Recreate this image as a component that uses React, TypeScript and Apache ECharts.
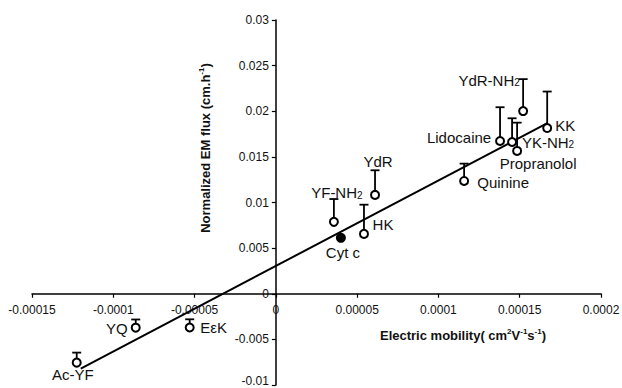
import React, { useEffect, useRef } from "react";
import * as echarts from "echarts";

const names = ["Ac-YF", "YQ", "EεK", "Cyt c", "YF-NH2", "HK", "YdR", "Quinine", "Lidocaine", "YK-NH2", "Propranolol", "YdR-NH2", "KK"];
const mobility = [-0.0001225, -0.0000862, -0.000053, 0.00004, 0.0000357, 0.0000542, 0.000061, 0.0001158, 0.0001379, 0.0001453, 0.0001484, 0.0001521, 0.0001669];
const flux = [-0.00755, -0.00372, -0.0037, 0.00613, 0.00788, 0.00656, 0.01083, 0.01236, 0.01674, 0.01663, 0.01565, 0.02002, 0.01816];
const errPlus = [0.0011, 0.0009, 0.0009, 0, 0.0025, 0.0032, 0.0027, 0.0019, 0.0037, 0.0026, 0.0031, 0.0035, 0.004];
const filledPoints = ["Cyt c"];
const trendX = [-0.00012, 0.000167];
const trendY = [-0.0082, 0.0187];

const xMin = -0.00015, xMax = 0.0002, xStep = 0.00005;
const yMin = -0.01, yMax = 0.03, yStep = 0.005;

const W = 622, H = 388;
const GRID = { left: 32, right: 21, top: 20, bottom: 3 };

// label centre offsets (px) relative to each point
const labelOffsets: Record<string, [number, number]> = {
  "Ac-YF": [-4, 12],
  "YQ": [-19, 1],
  "EεK": [24, 0],
  "Cyt c": [2, 15],
  "YF-NH2": [3, -29],
  "HK": [19, -9],
  "YdR": [3, -33],
  "Quinine": [39, 2],
  "Lidocaine": [-41, -3],
  "YK-NH2": [36, 0],
  "Propranolol": [21, 13],
  "YdR-NH2": [-34, -31],
  "KK": [18, -3],
};

const FONT = "'Liberation Sans', Arial, Helvetica, sans-serif";

function richName(n: string): string {
  if (n.endsWith("NH2")) return "{a|" + n.slice(0, -1) + "}{s|2}";
  return "{a|" + n + "}";
}

function fmt(v: number): string {
  return String(parseFloat(v.toPrecision(6)));
}

export default function App() {
  const ref = useRef<HTMLDivElement>(null);
  useEffect(() => {
    if (!ref.current) return;
    const chart = echarts.init(ref.current, undefined, { renderer: "svg" });
    const gridW = W - GRID.left - GRID.right;
    const gridH = H - GRID.top - GRID.bottom;
    const yAxisOffset = -gridW * (0 - xMin) / (xMax - xMin);
    const xAxisOffset = -gridH * (0 - yMin) / (yMax - yMin);
    const points = names.map((n, i) => {
      const filled = filledPoints.includes(n);
      return {
        name: n,
        value: [mobility[i], flux[i]],
        symbol: filled ? "circle" : "emptyCircle",
        symbolSize: filled ? 10 : 8,
        itemStyle: filled
          ? { color: "#000", borderColor: "#000", borderWidth: 0, opacity: 1 }
          : { color: "#000", borderColor: "#000", borderWidth: 1.8, opacity: 1 },
        label: {
          show: true,
          position: "inside",
          offset: labelOffsets[n] || [0, 0],
          formatter: richName(n),
        },
      };
    });
    const errData = names.map((n, i) => [mobility[i], flux[i], errPlus[i]]);

    chart.setOption({
      animation: false,
      backgroundColor: "#fff",
      grid: { ...GRID, outerBoundsMode: "none", containLabel: false },
      xAxis: {
        type: "value",
        min: xMin,
        max: xMax,
        interval: xStep,
        position: "bottom",
        offset: xAxisOffset,
        axisLine: { show: true, onZero: false, lineStyle: { color: "#000", width: 1.5 } },
        axisTick: { show: true, length: 4, inside: false, lineStyle: { color: "#000", width: 1.2 } },
        axisLabel: { margin: 10, color: "#111", fontSize: 12, fontFamily: FONT, formatter: (v: number) => fmt(v) },
        splitLine: { show: false },
      },
      yAxis: {
        type: "value",
        min: yMin,
        max: yMax,
        interval: yStep,
        position: "left",
        offset: yAxisOffset,
        axisLine: { show: true, onZero: false, lineStyle: { color: "#000", width: 1.5 } },
        axisTick: { show: true, length: 4, inside: false, lineStyle: { color: "#000", width: 1.2 } },
        axisLabel: {
          margin: 7,
          color: "#111",
          fontSize: 12,
          fontFamily: FONT,
          formatter: (v: number) => (Math.abs(v - yMin) < 1e-9 ? "{low|" + fmt(v) + "}" : fmt(v)),
          rich: { low: { fontSize: 12, fontFamily: FONT, color: "#111", padding: [0, 0, 8, 0] } },
        },
        splitLine: { show: false },
      },
      graphic: [
        {
          type: "text",
          x: 463,
          y: 335,
          style: {
            text: "{b|Electric mobility( cm}{s|2}{b|V}{s|-1}{b|s}{s|-1}{b|)}",
            align: "center",
            verticalAlign: "middle",
            fill: "#111",
            rich: {
              b: { fontSize: 13, fontWeight: "bold", fontFamily: FONT, lineHeight: 16, fill: "#111" },
              s: { fontSize: 8, fontWeight: "bold", fontFamily: FONT, lineHeight: 8, verticalAlign: "top", fill: "#111" },
            },
          },
        },
        {
          type: "text",
          x: 205,
          y: 148,
          rotation: Math.PI / 2,
          style: {
            text: "{b|Normalized EM flux (cm.h}{s|-1}{b|)}",
            align: "center",
            verticalAlign: "middle",
            fill: "#111",
            rich: {
              b: { fontSize: 13, fontWeight: "bold", fontFamily: FONT, lineHeight: 16, fill: "#111" },
              s: { fontSize: 8, fontWeight: "bold", fontFamily: FONT, lineHeight: 8, verticalAlign: "top", fill: "#111" },
            },
          },
        },
      ],
      series: [
        {
          type: "line",
          data: trendX.map((x, i) => [x, trendY[i]]),
          symbol: "none",
          lineStyle: { color: "#000", width: 2 },
          z: 2,
        },
        {
          type: "custom",
          data: errData,
          encode: { x: 0, y: 1 },
          z: 3,
          renderItem: (params: any, api: any) => {
            const x = api.value(0);
            const y = api.value(1);
            const e = api.value(2);
            if (!e) return { type: "group", children: [] };
            const p0 = api.coord([x, y]);
            const p1 = api.coord([x, y + e]);
            const st = { stroke: "#000", lineWidth: 1.8 };
            return {
              type: "group",
              children: [
                { type: "line", shape: { x1: p0[0], y1: p0[1], x2: p1[0], y2: p1[1] }, style: st },
                { type: "line", shape: { x1: p1[0] - 4.5, y1: p1[1], x2: p1[0] + 4.5, y2: p1[1] }, style: st },
              ],
            };
          },
        },
        {
          type: "scatter",
          data: points,
          z: 5,
          itemStyle: { opacity: 1 },
          label: {
            show: true,
            color: "#111",
            rich: {
              a: { fontSize: 15, fontFamily: FONT, lineHeight: 15, color: "#111" },
              s: { fontSize: 10, fontFamily: FONT, lineHeight: 3, verticalAlign: "bottom", color: "#111" },
            },
          },
        },
      ],
    });
    return () => chart.dispose();
  }, []);
  return <div ref={ref} style={{ position: "absolute", left: 0, top: 0, width: W, height: H }} />;
}
